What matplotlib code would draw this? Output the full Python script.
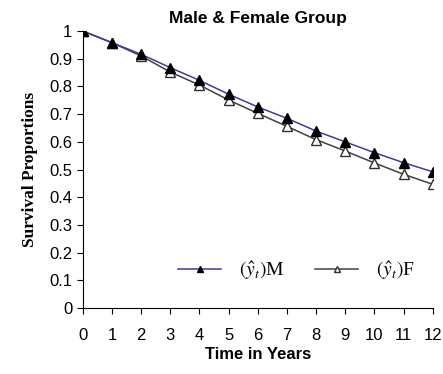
import matplotlib
matplotlib.use("Agg")
import matplotlib.pyplot as plt
from matplotlib import font_manager

years = list(range(0, 13))
male = [1.0, 0.958, 0.916, 0.868, 0.822, 0.772, 0.726, 0.685, 0.639, 0.600, 0.561, 0.525, 0.492]
female = [1.0, 0.958, 0.910, 0.852, 0.805, 0.751, 0.703, 0.656, 0.608, 0.567, 0.524, 0.483, 0.447]
yticks = [0, 0.1, 0.2, 0.3, 0.4, 0.5, 0.6, 0.7, 0.8, 0.9, 1]
ytick_labels = ["0", "0.1", "0.2", "0.3", "0.4", "0.5", "0.6", "0.7", "0.8", "0.9", "1"]

names = {f.name for f in font_manager.fontManager.ttflist}
sans = ["Liberation Sans Narrow", "Liberation Sans", "DejaVu Sans"]
sans = [f for f in sans if f in names] or ["DejaVu Sans"]
plt.rcParams['font.family'] = sans
plt.rcParams['mathtext.fontset'] = 'stix'

fig = plt.figure(figsize=(4.43, 3.74), dpi=100)
ax = fig.add_axes([0.187, 0.176, 0.79, 0.741])

ax.plot(years, male, color='#3c3c9c', lw=1.1, marker='^', ms=7,
        mfc='black', mec='black', label=r'$(\hat{y}_t)$M', zorder=3)
ax.plot(years, female, color='#404040', lw=1.1, marker='^', ms=7,
        mfc='white', mec='#303030', label=r'$(\hat{y}_t)$F', zorder=2)

ax.set_xlim(0, 12)
ax.set_ylim(0, 1)
ax.set_xticks(years)
ax.set_xticklabels([str(y) for y in years])
ax.set_yticks(yticks)
ax.set_yticklabels(ytick_labels)
ax.spines['top'].set_visible(False)
ax.spines['right'].set_visible(False)
ax.tick_params(axis='both', direction='out', length=4, labelsize=12, colors='black')
ax.tick_params(axis='x', pad=10)

ax.set_xlabel("Time in Years", fontsize=12, fontweight='bold', labelpad=3)
ax.set_ylabel("Survival Proportions", fontsize=12.5, fontweight='bold',
              family=['Liberation Serif', 'DejaVu Serif'], labelpad=8)
ax.set_title("Male & Female Group", fontsize=12.5, fontweight='bold', pad=6)

leg = ax.legend(ncol=2, frameon=False, loc='center', bbox_to_anchor=(0.61, 0.135),
                prop={'family': ['Liberation Serif', 'DejaVu Serif'], 'size': 14},
                handlelength=2.2, columnspacing=1.6, handletextpad=0.9)
for h in leg.legend_handles:
    h.set_markersize(4.5)

fig.savefig("out.png", dpi=100)
